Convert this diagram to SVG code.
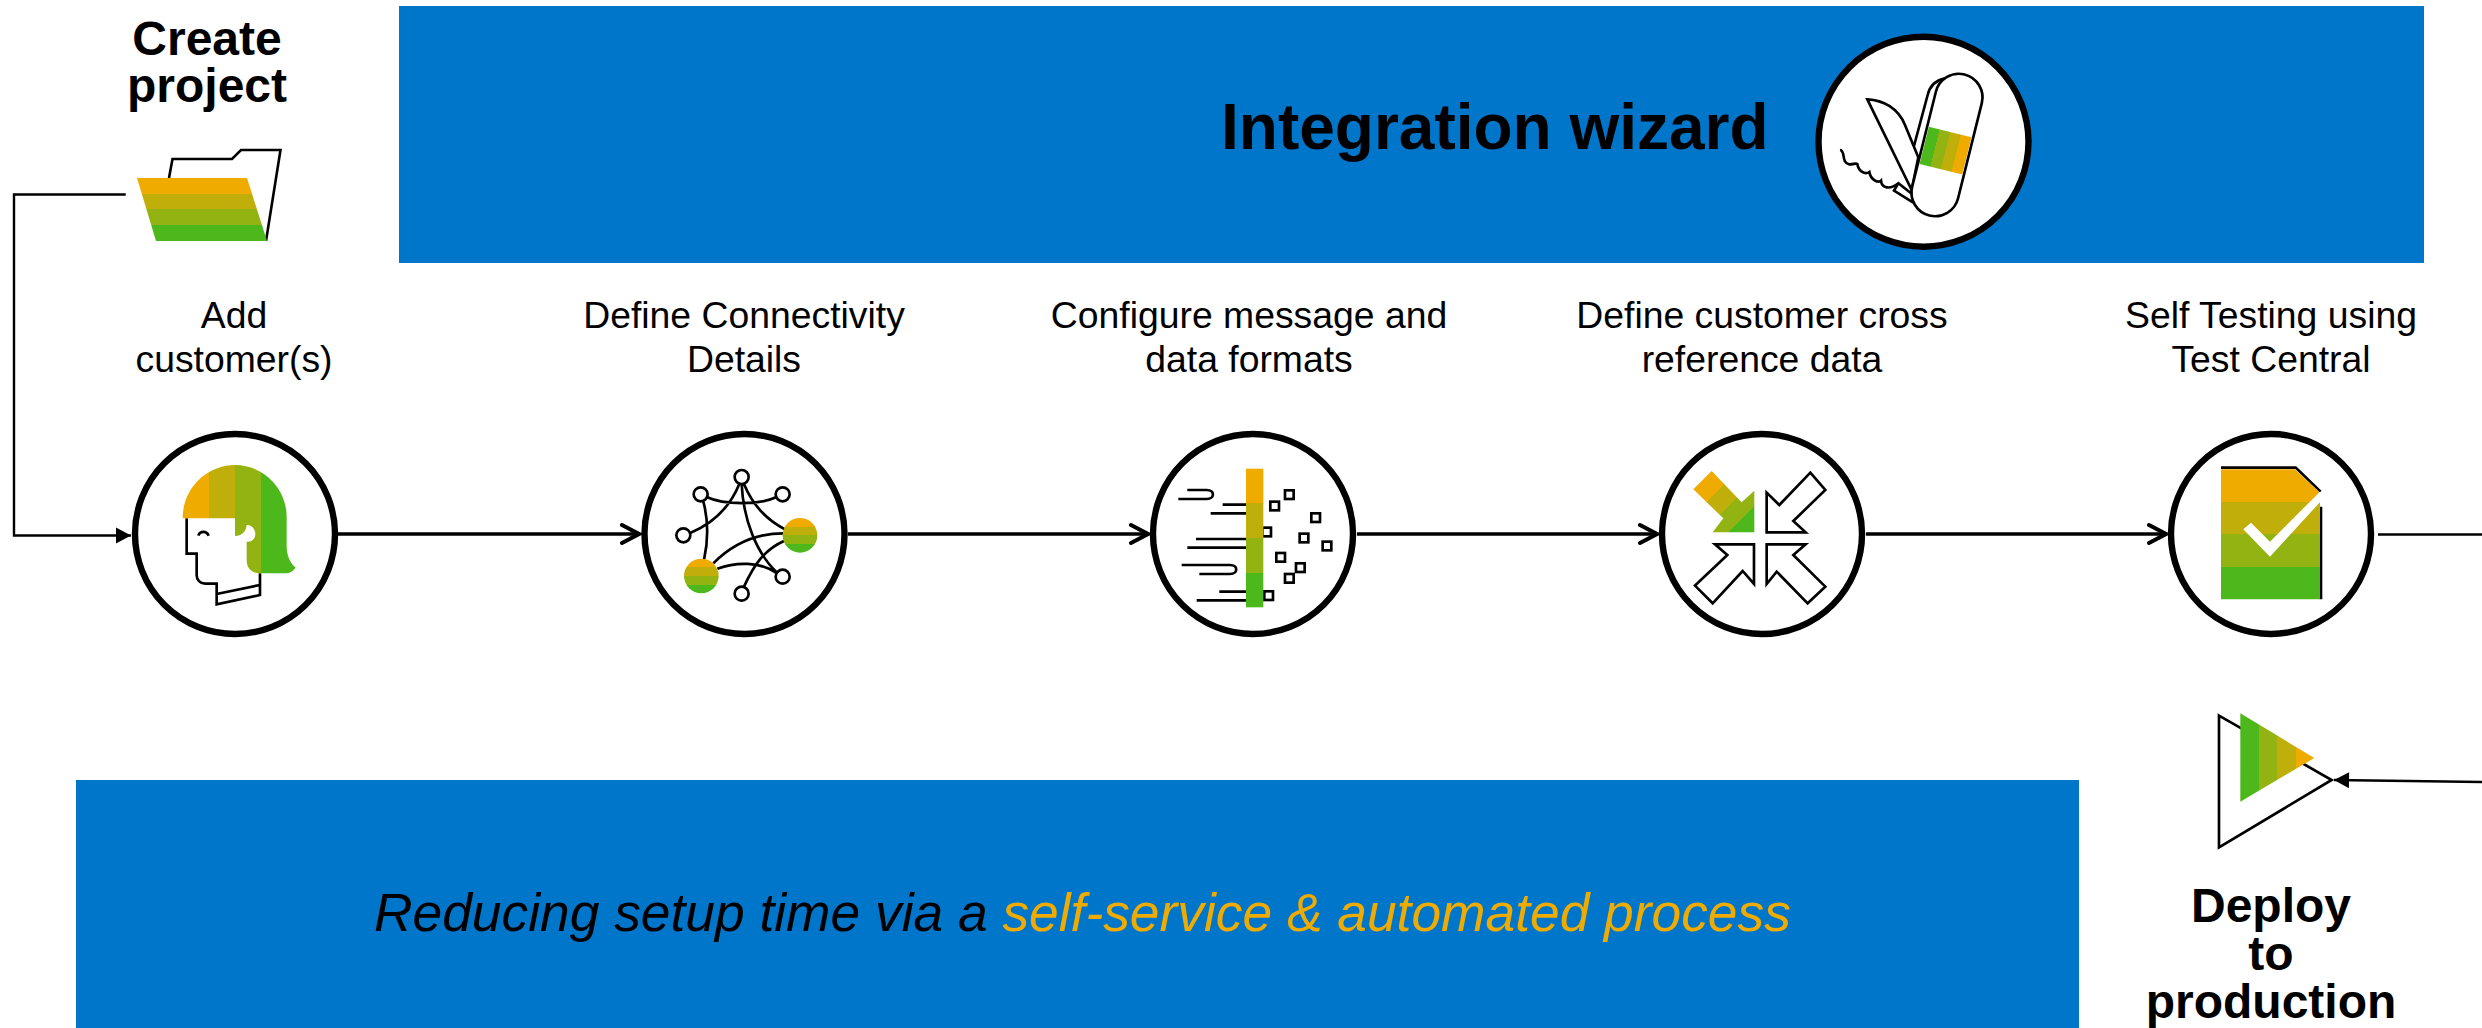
<svg xmlns="http://www.w3.org/2000/svg" width="2482" height="1028" viewBox="0 0 2482 1028">
<style>
text{font-family:"Liberation Sans",Arial,sans-serif;fill:#000}
.h{font-size:48px;font-weight:bold;text-anchor:middle}
.l{font-size:37.33px;text-anchor:middle}
.ring{fill:#fff;stroke:#000;stroke-width:6.4}
.i{fill:none;stroke:#000;stroke-width:8;stroke-linecap:butt;stroke-linejoin:miter}
.o{fill:#fff;stroke:#000;stroke-width:8}
.main{fill:none;stroke:#000;stroke-width:3.6;marker-end:url(#open)}
.thin{fill:none;stroke:#000;stroke-width:2.4}
.banner{fill:#0076CB}
</style>
<defs>
<linearGradient id="bV" x1="0" y1="0" x2="0" y2="1"><stop offset=".25" stop-color="#F0AB00"/><stop offset=".25" stop-color="#C0AF0B"/><stop offset=".5" stop-color="#C0AF0B"/><stop offset=".5" stop-color="#92B312"/><stop offset=".75" stop-color="#92B312"/><stop offset=".75" stop-color="#4DB81B"/></linearGradient>
<linearGradient id="bR" x1="0" y1="0" x2="1" y2="0"><stop offset=".25" stop-color="#4DB81B"/><stop offset=".25" stop-color="#92B312"/><stop offset=".5" stop-color="#92B312"/><stop offset=".5" stop-color="#C0AF0B"/><stop offset=".75" stop-color="#C0AF0B"/><stop offset=".75" stop-color="#F0AB00"/></linearGradient>
<linearGradient id="bHair" gradientUnits="userSpaceOnUse" x1="218" y1="0" x2="530" y2="0"><stop offset=".25" stop-color="#F0AB00"/><stop offset=".25" stop-color="#C0AF0B"/><stop offset=".5" stop-color="#C0AF0B"/><stop offset=".5" stop-color="#92B312"/><stop offset=".75" stop-color="#92B312"/><stop offset=".75" stop-color="#4DB81B"/></linearGradient>
<linearGradient id="bDiag" gradientUnits="userSpaceOnUse" x1="199" y1="199" x2="355" y2="355"><stop offset=".25" stop-color="#F0AB00"/><stop offset=".25" stop-color="#C0AF0B"/><stop offset=".5" stop-color="#C0AF0B"/><stop offset=".5" stop-color="#92B312"/><stop offset=".75" stop-color="#92B312"/><stop offset=".75" stop-color="#4DB81B"/></linearGradient>
<marker id="open" markerUnits="userSpaceOnUse" viewBox="-20 -12 24 24" refX="0" refY="0" markerWidth="24" markerHeight="24" orient="auto"><path d="M-17 -9L0 0L-17 9" fill="none" stroke="#000" stroke-width="4" stroke-linecap="round" stroke-linejoin="miter"/></marker>
<marker id="solid" markerUnits="userSpaceOnUse" viewBox="-16 -9 17 18" refX="0" refY="0" markerWidth="17" markerHeight="18" orient="auto"><path d="M-15 -8L0 0L-15 8Z" fill="#000"/></marker>
</defs>

<rect id="banner-top" class="banner" x="399" y="6" width="2025" height="257"/>
<rect id="banner-bottom" class="banner" x="76" y="780" width="2003" height="248"/>

<g id="connectors">
<path class="thin" d="M125.7 194.5H14V535.5H131" marker-end="url(#solid)"/>
<path class="main" d="M338 534H639"/>
<path class="main" d="M848 534H1148"/>
<path class="main" d="M1357 534H1657"/>
<path class="main" d="M1866 534H2166"/>
<path class="thin" d="M2378 534.5H2482"/>
<path class="thin" d="M2482 782L2334 780" marker-end="url(#solid)"/>
</g>

<g id="create-project">
<text class="h"><tspan x="207" y="55">Create</tspan><tspan x="207" y="102">project</tspan></text>
<path d="M169 178L172.5 159H232L241 150H280.5L266 241" fill="none" stroke="#000" stroke-width="2.6"/>
<polygon points="137,178 247,178 267,241 156,241" fill="url(#bV)"/>
</g>

<g id="integration-wizard">
<text x="1221" y="148.5" style="font-size:64px;font-weight:bold">Integration wizard</text>
<circle class="ring" cx="1923.5" cy="141.7" r="105"/>
<g transform="translate(1780,20) scale(.3333)">
<path class="i" d="M495 175C470 180 450 195 443 225L402 378"/>
<path class="o" d="M262 238C310 240 355 265 375 315L415 412L395 510Z"/>
<path class="i" d="M180 390C198 392 182 428 208 433C220 434 226 428 232 432C236 455 255 465 268 456C272 480 295 490 303 482C305 505 330 510 355 490L400 525M355 490L342 512L400 548"/>
<g transform="translate(501,375) rotate(14)">
<rect class="o" x="-71" y="-218" width="142" height="436" rx="71"/>
<rect x="-66" y="-40" width="132" height="115" fill="url(#bR)"/>
</g>
</g>
</g>

<g id="add-customers">
<text class="l"><tspan x="234" y="328">Add</tspan><tspan x="234" y="372">customer(s)</tspan></text>
<circle class="ring" cx="235" cy="534" r="100"/>
<g transform="translate(110,410) scale(.3333)">
<path class="i" d="M230 325V431H260V495C260 510 270 521 285 521H320V583L450 555V490M320 552L450 525"/>
<path class="i" d="M265 377C270 362 290 362 296 377"/>
<path fill="url(#bHair)" d="M218 325C218 235 290 165 375 165C460 165 530 235 530 320V410C530 440 545 465 557 472C550 485 540 490 525 490H450C425 490 410 475 410 450V395C425 397 436 387 436 372C436 355 422 343 410 345C408 365 395 378 375 378V325Z"/>
</g>
</g>

<g id="connectivity">
<text class="l"><tspan x="744" y="328">Define Connectivity</tspan><tspan x="744" y="372">Details</tspan></text>
<circle class="ring" cx="744.5" cy="534" r="100"/>
<g transform="translate(620,410) scale(.3333)">
<path class="i" d="M262 262C310 285 420 285 468 262M250 275C265 330 265 390 252 450M212 368C280 340 330 290 358 222M365 222C370 330 410 430 470 487M372 222C400 290 440 330 495 358M280 460C330 410 400 370 490 370M292 476C350 455 420 455 468 488M372 530C400 470 430 420 492 393"/>
<circle class="o" cx="365" cy="201" r="21"/><circle class="o" cx="242" cy="253" r="21"/><circle class="o" cx="488" cy="253" r="21"/><circle class="o" cx="190" cy="376" r="21"/><circle class="o" cx="488" cy="500" r="21"/><circle class="o" cx="365" cy="551" r="21"/>
<circle cx="540" cy="376" r="52" fill="url(#bV)"/><circle cx="244" cy="498" r="52" fill="url(#bV)"/>
</g>
</g>

<g id="message-formats">
<text class="l"><tspan x="1249" y="328">Configure message and</tspan><tspan x="1249" y="372">data formats</tspan></text>
<circle class="ring" cx="1253" cy="534" r="100"/>
<g transform="translate(1130,410) scale(.3333)">
<path class="i" d="M145 267H230C255 267 255 240 230 240H172M278 284H348M242 310H348M198 387H348M172 413H348M155 465H300C325 465 325 492 300 492H208M268 545H348M200 571H348"/>
<rect class="o" x="397" y="353" width="26" height="26"/>
<rect class="o" x="421" y="275" width="26" height="26"/><rect class="o" x="465" y="241" width="26" height="26"/><rect class="o" x="544" y="310" width="26" height="26"/><rect class="o" x="509" y="371" width="26" height="26"/><rect class="o" x="578" y="395" width="26" height="26"/><rect class="o" x="439" y="429" width="26" height="26"/><rect class="o" x="498" y="460" width="26" height="26"/><rect class="o" x="465" y="492" width="26" height="26"/><rect class="o" x="403" y="544" width="26" height="26"/>
<rect x="348" y="176" width="52" height="416" fill="url(#bV)"/>
</g>
</g>

<g id="cross-reference">
<text class="l"><tspan x="1762" y="328">Define customer cross</tspan><tspan x="1762" y="372">reference data</tspan></text>
<circle class="ring" cx="1762" cy="534" r="100"/>
<g transform="translate(1640,410) scale(.3333)">
<polygon fill="url(#bDiag)" points="215,183 160,238 250,325 218,367 343,367 343,242 305,277"/>
<path class="i" d="M511 188L556 240L460 333L497 367H380V248L418 285ZM218 580L165 527L262 435L225 403H342V522L308 483ZM503 580L556 530L460 435L497 403H380V522L410 485Z"/>
</g>
</g>

<g id="self-testing">
<text class="l"><tspan x="2271" y="328">Self Testing using</tspan><tspan x="2271" y="372">Test Central</tspan></text>
<circle class="ring" cx="2271" cy="534" r="100"/>
<g transform="translate(2150,410) scale(.3333)">
<path d="M213 173H437L512 245M513 290V568" fill="none" stroke="#000" stroke-width="8"/>
<polygon fill="url(#bV)" points="213,178 435,178 510,248 510,568 213,568"/>
<polygon fill="#fff" points="280,358 303,338 360,395 510,245 525,260 360,440"/>
</g>
</g>

<g id="deploy">
<g transform="translate(2150,690) scale(.3333)">
<polygon class="i" points="207,77 545,270 207,472"/>
<polygon fill="url(#bR)" points="271,70 493,204 271,335"/>
</g>
<text class="h"><tspan x="2271" y="922">Deploy</tspan><tspan x="2271" y="970">to</tspan><tspan x="2271" y="1018">production</tspan></text>
</g>

<text id="tagline" x="374" y="931" style="font-size:53.33px;font-style:italic">Reducing setup time via a <tspan style="fill:#F0AB00">self-service &amp; automated process</tspan></text>
</svg>
